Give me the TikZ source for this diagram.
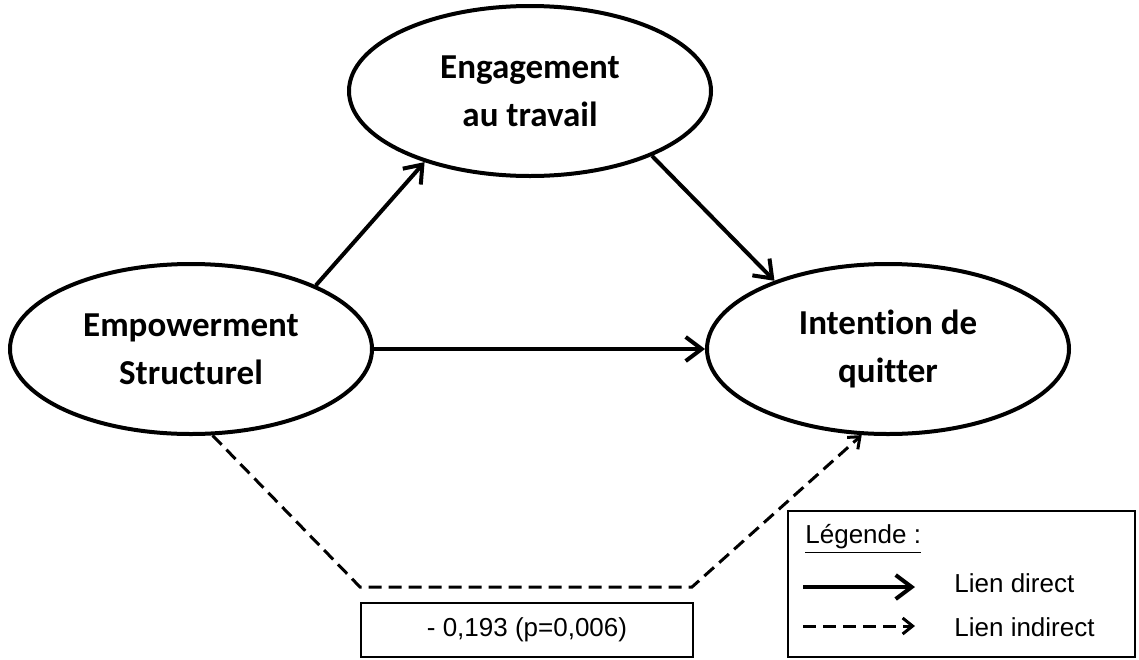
\documentclass[tikz,border=0pt]{standalone}
\usepackage{fontspec}
\setmainfont{Liberation Sans}
\newfontfamily\calibri[Ligatures=CommonOff]{Carlito}
\usetikzlibrary{arrows.meta}
\usetikzlibrary{shapes.geometric}

\begin{document}
\begin{tikzpicture}[x=0.5pt, y=-0.5pt,
    latent/.style={ellipse, draw, line width=2pt, minimum width=181pt, minimum height=85pt, inner sep=0pt, align=center, font=\calibri\bfseries\fontsize{17.5}{24}\selectfont},
    direct/.style={line width=2pt, -{Straight Barb[length=8pt, width=12pt]}},
    indirect/.style={line width=1.5pt, dash pattern=on 6.5pt off 3.5pt, -{Straight Barb[length=5pt, width=8pt]}},
    plain/.style={font=\fontsize{13}{15}\selectfont}]
    \useasboundingbox (0, 0) rectangle (1139, 659);

    \node [latent] (emp) at (191, 349) {Empowerment\\Structurel};
    \node [latent] (eng) at (530, 91) {Engagement\\au travail};
    \node [latent] (int) at (888, 349) {Intention de\\quitter};

    \draw [direct] (emp.27) -- (eng.214);
    \draw [direct] (eng.-28) -- (int.149);
    \draw [direct] (emp.east) -- (int.west);

    % lien indirect
    \coordinate (c1) at (360, 587);
    \coordinate (c2) at (692, 587);
    \draw [indirect] (emp.-76) -- (c1) -- (c2) -- (int.253);
    \node [draw, plain, line width=0.75pt, minimum width=166pt, minimum height=27pt] (val) at (527, 630) {- 0,193 (p=0,006)};

    % legende
    \node [draw, line width=0.75pt, minimum width=173.5pt, minimum height=73pt] (leg) at (961.5, 584) {};
    \node [plain, anchor=west, inner sep=0pt] (legtitle) at (805, 539) {\underline{Légende :}};
    \coordinate (d1) at (803, 587);
    \coordinate (d2) at (915, 587);
    \coordinate (i1) at (803, 626);
    \coordinate (i2) at (915, 626);
    \draw [direct] (d1) -- (d2);
    \draw [indirect] (i1) -- (i2);
    \node [plain, anchor=west, inner sep=0pt] (legdirect) at (954, 583) {Lien direct};
    \node [plain, anchor=west, inner sep=0pt] (legindirect) at (954, 627) {Lien indirect};
\end{tikzpicture}
\end{document}
